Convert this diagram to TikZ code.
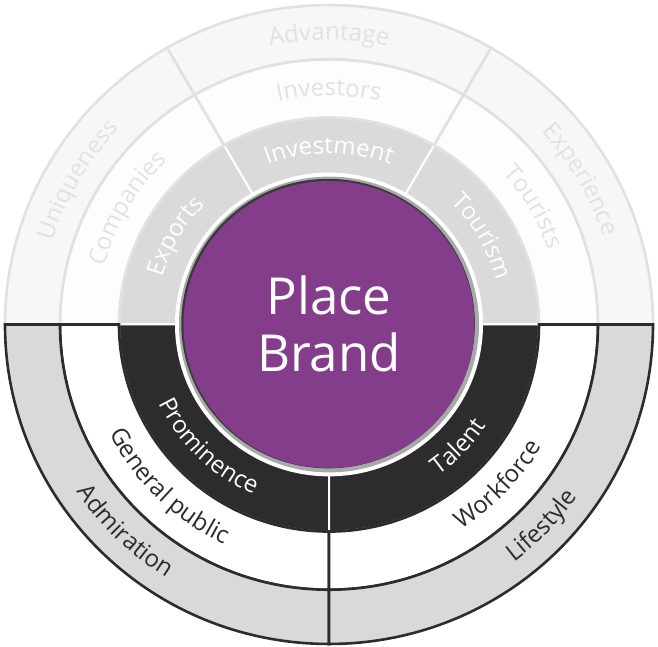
\documentclass[tikz,border=0pt]{standalone}
\usepackage{fontspec}
\setmainfont{Open Sans}
\usetikzlibrary{decorations.text}
\definecolor{purp}{HTML}{833D8B}
\definecolor{dk}{HTML}{2C2C2C}
\definecolor{lgline}{HTML}{E1E1E1}
\definecolor{topout}{HTML}{F7F7F7}
\definecolor{topmid}{HTML}{FDFDFD}
\definecolor{topin}{HTML}{DADADA}
\definecolor{botout}{HTML}{D9D9D9}
\definecolor{toptxt}{HTML}{E2E2E2}
\definecolor{ringgray}{HTML}{A9A9A9}
\definecolor{ringdark}{HTML}{3A3A3A}
\newcommand\rf{\fontsize{24pt}{28pt}\selectfont}
\newcommand\annsec[5]{\path[#1] (#2:#4) arc[start angle=#2, end angle=#3, radius=#4] -- (#3:#5) arc[start angle=#3, end angle=#2, radius=#5] -- cycle;}
\newcommand\toplab[4]{\path[decorate, decoration={text along path, text align=center, text={|\rf\color{#3}|#4}}] ({#1+60}:#2) arc[start angle={#1+60}, end angle={#1-60}, radius=#2];}
\newcommand\botlab[4]{\path[decorate, decoration={text along path, text align=center, text={|\rf\color{#3}|#4}}] ({#1-60}:#2) arc[start angle={#1-60}, end angle={#1+60}, radius=#2];}
\begin{document}
\begin{tikzpicture}[x=1pt,y=0.986pt,
  innertop/.style={fill=topin, draw=white, line width=2pt},
  innerbot/.style={fill=dk, draw=white, line width=2pt},
  topmidsec/.style={fill=topmid, draw=lgline, line width=2.6pt},
  topoutsec/.style={fill=topout, draw=lgline, line width=2.6pt},
  botmidsec/.style={fill=white, draw=dk, line width=2.6pt},
  botoutsec/.style={fill=botout, draw=dk, line width=2.6pt},
  centertext/.style={anchor=base, text=white, inner sep=0pt, font=\fontsize{51pt}{60pt}\selectfont}]
\fill[white] (-329pt,-322.5pt) rectangle (329pt,324.5pt);
\useasboundingbox (-329pt,-322.5pt) rectangle (329pt,324.5pt);
% inner ring
\annsec{innertop}{0}{60}{210}{153}
\annsec{innertop}{60}{120}{210}{153}
\annsec{innertop}{120}{180}{210}{153}
\annsec{innerbot}{180}{270}{210}{153}
\annsec{innerbot}{270}{360}{210}{153}
% top middle and outer rings
\annsec{topmidsec}{0}{60}{269}{210}
\annsec{topmidsec}{60}{120}{269}{210}
\annsec{topmidsec}{120}{180}{269}{210}
\annsec{topoutsec}{0}{60}{324}{269}
\annsec{topoutsec}{60}{120}{324}{269}
\annsec{topoutsec}{120}{180}{324}{269}
% bottom middle and outer rings
\annsec{botmidsec}{180}{270}{269}{210}
\annsec{botmidsec}{270}{360}{269}{210}
\annsec{botoutsec}{180}{270}{324}{269}
\annsec{botoutsec}{270}{360}{324}{269}
% centre disc
\fill[white] (0,0) circle[radius=153];
\fill[ringgray] (0,0) circle[radius=150];
\fill[ringdark] (-0.9,0.9) circle[radius=146.8];
\fill[purp] (0,0) circle[radius=145.5];
\node[centertext] (place) at (0pt,9.5pt) {Place};
\node[centertext] (brand) at (0pt,-47.5pt) {Brand};
% top labels
\toplab{90}{288.5}{toptxt}{Advantage}
\toplab{90}{232}{toptxt}{Investors}
\toplab{90}{173.5}{white}{Investment}
\toplab{150}{288.5}{toptxt}{Uniqueness}
\toplab{150}{232}{toptxt}{Companies}
\toplab{150}{173.5}{white}{Exports}
\toplab{30}{288.5}{toptxt}{Experience}
\toplab{30}{232}{toptxt}{Tourists}
\toplab{30}{173.5}{white}{Tourism}
% bottom labels
\botlab{225.5}{304}{dk}{Admiration}
\botlab{225.5}{246}{dk}{General public}
\botlab{225.5}{188}{white}{Prominence}
\botlab{316.5}{304}{dk}{Lifestyle}
\botlab{316.5}{246}{dk}{Workforce}
\botlab{316.5}{188}{white}{Talent}
\end{tikzpicture}
\end{document}
